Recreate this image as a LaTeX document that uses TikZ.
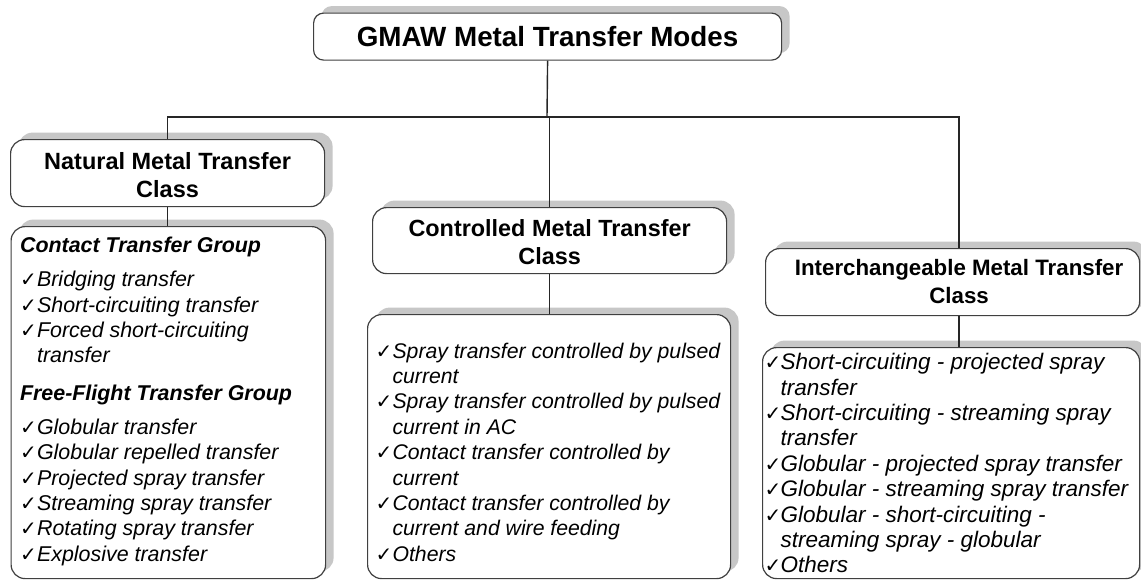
\documentclass[tikz,border=0pt]{standalone}
\usepackage{fontspec}
\setmainfont{Liberation Sans}
\newfontfamily\symfont{DejaVu Sans}
\usetikzlibrary{shadows}

% list helpers
\newlength\tickw
\newcommand\tick{\makebox[\tickw][l]{\symfont\fontsize{20pt}{20pt}\selectfont ✓}}
\newcommand\itm[1]{\par\noindent\mbox{\tick\textit{#1}}}
\newcommand\cnt[1]{\par\noindent\mbox{\hspace*{\tickw}\textit{#1}}}
\newcommand\grp[1]{\par\noindent\mbox{\textbf{\textit{#1}}}}
\newcommand\gap[1]{\par\vspace*{#1}}
% #1 width, #2 font size, #3 tick width, #4 lines
\newcommand\listbody[4]{\parbox[t]{#1}{\fontsize{#2}{25.4pt}\selectfont
  \setlength\tickw{#3}\parskip=0pt\raggedright #4}}
% #1 width, #2 font size, #3 lines
\newcommand\classbody[3]{\parbox[t]{#1}{\centering\bfseries
  \fontsize{#2}{27.5pt}\selectfont #3}}

\tikzset{
  panel/.style={draw=black!75, line width=1.2pt, fill=white,
    rounded corners=14pt, inner sep=0pt, anchor=north west,
    general shadow={fill=black!22, shadow xshift=8pt, shadow yshift=7pt}},
  link/.style={draw=black!85, line width=1.4pt}
}

\begin{document}
\begin{tikzpicture}[x=1pt, y=-1pt]
\useasboundingbox (0,0) rectangle (1141,579);
\fill[white] (0,0) rectangle (1141,579);

% root
\node[panel, rounded corners=10pt, text height=33pt, text depth=14pt] (gmaw) at (313,12.5)
  {\classbody{468pt}{27.8pt}{GMAW Metal Transfer Modes}};

% classes
\node[panel, text height=30pt, text depth=37pt] (natural) at (10,139)
  {\classbody{314pt}{23.5pt}{Natural Metal Transfer\\Class}};
\node[panel, text height=29pt, text depth=37pt] (controlled) at (372,207)
  {\classbody{354pt}{23.4pt}{Controlled Metal Transfer\\Class}};
\node[panel, text height=27pt, text depth=40pt] (inter) at (765,248)
  {\classbody{374pt}{22.3pt}{\hspace*{13pt}Interchangeable Metal Transfer\\\hspace*{13pt}Class}};

% mode lists
\node[panel, inner xsep=9pt, text height=26pt, text depth=326pt] (natlist) at (10.5,226)
  {\listbody{296.5pt}{21.4pt}{17pt}{%
    \grp{Contact Transfer Group}
    \gap{8.6pt}
    \itm{Bridging transfer}
    \itm{Short-circuiting transfer}
    \itm{Forced short-circuiting}
    \cnt{transfer}
    \gap{12pt}
    \grp{Free-Flight Transfer Group}
    \gap{8.6pt}
    \itm{Globular transfer}
    \itm{Globular repelled transfer}
    \itm{Projected spray transfer}
    \itm{Streaming spray transfer}
    \itm{Rotating spray transfer}
    \itm{Explosive transfer}}};

\node[panel, inner xsep=8pt, text height=43.5pt, text depth=220.5pt] (ctrlist) at (367,314)
  {\listbody{347pt}{21.2pt}{17pt}{%
    \itm{Spray transfer controlled by pulsed}
    \cnt{current}
    \itm{Spray transfer controlled by pulsed}
    \cnt{current in AC}
    \itm{Contact transfer controlled by}
    \cnt{current}
    \itm{Contact transfer controlled by}
    \cnt{current and wire feeding}
    \itm{Others}}};

\node[panel, inner xsep=2pt, text height=22pt, text depth=209pt] (interlist) at (762,347)
  {\listbody{373pt}{22.5pt}{16pt}{%
    \itm{Short-circuiting - projected spray}
    \cnt{transfer}
    \itm{Short-circuiting - streaming spray}
    \cnt{transfer}
    \itm{Globular - projected spray transfer}
    \itm{Globular - streaming spray transfer}
    \itm{Globular - short-circuiting -}
    \cnt{streaming spray - globular}
    \itm{Others}}};

% connectors
\coordinate (bus) at (547,117);
\draw[link] (gmaw.south) -- (bus);
\draw[link] (natural.north) |- (bus);
\draw[link] (bus) -| ([xshift=6.5pt]inter.north);
\draw[link] (controlled.north |- bus) -- (controlled.north);
\draw[link] (natural.south) -- (natural.south |- natlist.north);
\draw[link] (controlled.south) -- (controlled.south |- ctrlist.north);
\draw[link] ([xshift=6.5pt]inter.south) -- ([xshift=6.5pt]inter.south |- interlist.north);
\end{tikzpicture}
\end{document}
